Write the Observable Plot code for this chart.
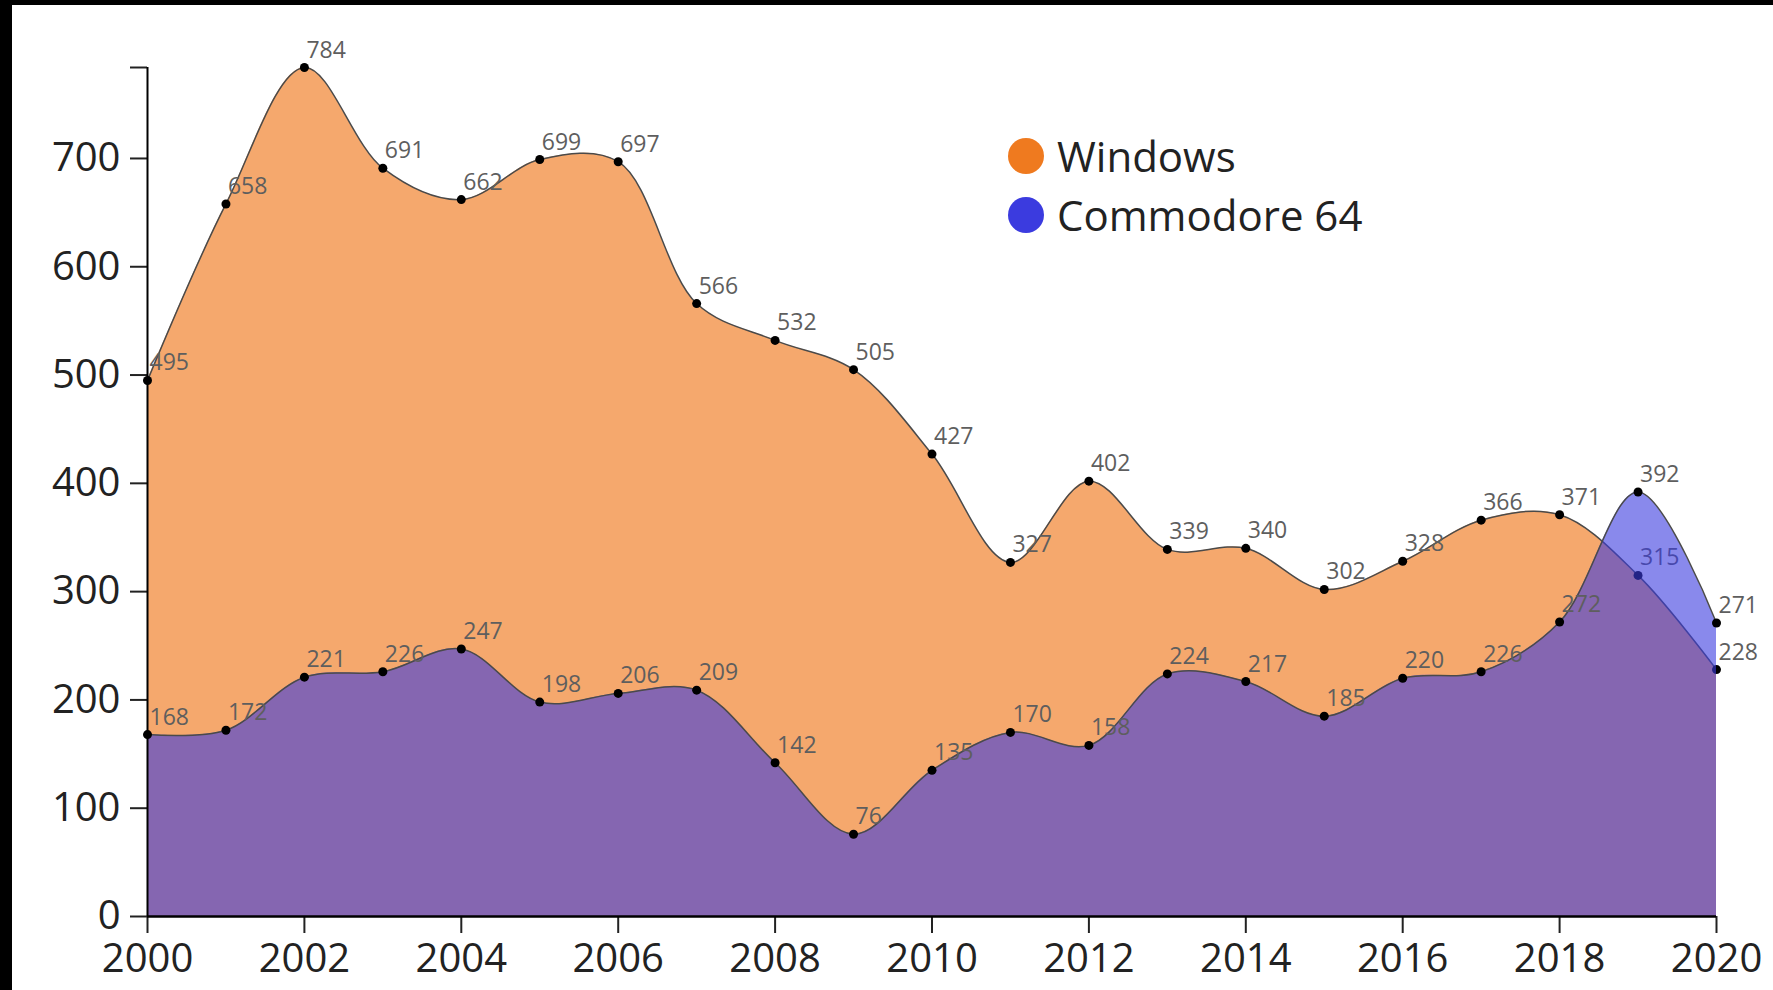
<!DOCTYPE html>
<html>
<head>
<meta charset="utf-8">
<script src="https://cdn.jsdelivr.net/npm/d3@7"></script>
<script src="https://cdn.jsdelivr.net/npm/@observablehq/plot@0.6"></script>
<style>
  html, body { margin: 0; padding: 0; background: #fff; overflow: hidden; width: 1773px; height: 990px; }
  #wrap { position: absolute; left: 0; top: 0; width: 1761px; height: 985px; overflow: hidden;
          border-left: 12px solid #000; border-top: 5px solid #000; background: #fff; }
  #wrap svg { display: block; }
  #legend { position: absolute; left: 1008px; top: 126px; font-family: "Open Sans", sans-serif;
            font-size: 42px; color: #222; }
  .row { display: flex; align-items: center; height: 59px; }
  .sw { width: 36px; height: 36px; border-radius: 50%; margin-right: 13px; }
</style>
</head>
<body>
<div id="wrap"></div>
<div id="legend"></div>
<script>
const years = [2000, 2001, 2002, 2003, 2004, 2005, 2006, 2007, 2008, 2009, 2010,
               2011, 2012, 2013, 2014, 2015, 2016, 2017, 2018, 2019, 2020];
const windows = [495, 658, 784, 691, 662, 699, 697, 566, 532, 505, 427,
                 327, 402, 339, 340, 302, 328, 366, 371, 315, 228];
const commodore = [168, 172, 221, 226, 247, 198, 206, 209, 142, 76, 135,
                   170, 158, 224, 217, 185, 220, 226, 272, 392, 271];
const seriesNames = ["Windows", "Commodore 64"];
const seriesColors = ["#EF7A1F", "#3B3BDF"];
const xTicks = [2000, 2002, 2004, 2006, 2008, 2010, 2012, 2014, 2016, 2018, 2020];
const yTicks = [0, 100, 200, 300, 400, 500, 600, 700];

const winData = years.map((y, i) => ({year: y, value: windows[i]}));
const c64Data = years.map((y, i) => ({year: y, value: commodore[i]}));
const yMax = d3.max([...windows, ...commodore]);

function seriesMarks(data, color, opacity) {
  return [
    Plot.areaY(data, {x: "year", y: "value", fill: color, fillOpacity: opacity, curve: "catmull-rom"}),
    Plot.lineY(data, {x: "year", y: "value", stroke: "#4a4a4a", strokeWidth: 1.5, curve: "catmull-rom"}),
    Plot.dot(data, {x: "year", y: "value", r: 4.5, fill: "#000"}),
    Plot.text(data, {x: "year", y: "value", text: d => String(d.value), dx: 2, dy: -10,
                     textAnchor: "start", lineAnchor: "bottom", fill: "#5e5e5e", fontSize: 23})
  ];
}

const chart = Plot.plot({
  width: 1761,
  height: 985,
  marginLeft: 135,
  marginRight: 57,
  marginTop: 62,
  marginBottom: 74,
  style: {fontFamily: "Open Sans, sans-serif", fontSize: "40px", color: "#222", background: "transparent"},
  x: {domain: [years[0], years[years.length - 1]]},
  y: {domain: [0, yMax]},
  marks: [
    ...seriesMarks(winData, seriesColors[0], 0.65),
    ...seriesMarks(c64Data, seriesColors[1], 0.6),
    Plot.axisX({ticks: xTicks, tickSize: 17, tickPadding: 10, strokeWidth: 2, fontSize: 40,
                tickFormat: d => String(d), label: null}),
    Plot.axisY({ticks: [...yTicks, yMax], tickSize: 17, tickPadding: 10, strokeWidth: 2, fontSize: 40,
                tickFormat: d => (yTicks.includes(d) ? String(d) : ""), label: null}),
    Plot.ruleY([0], {stroke: "#000", strokeWidth: 2.5}),
    Plot.ruleX([years[0]], {stroke: "#000", strokeWidth: 2})
  ]
});
document.getElementById("wrap").appendChild(chart);

const legend = document.getElementById("legend");
seriesNames.forEach((name, i) => {
  const row = document.createElement("div");
  row.className = "row";
  const sw = document.createElement("div");
  sw.className = "sw";
  sw.style.background = seriesColors[i];
  const label = document.createElement("span");
  label.textContent = name;
  row.appendChild(sw);
  row.appendChild(label);
  legend.appendChild(row);
});
</script>
</body>
</html>
